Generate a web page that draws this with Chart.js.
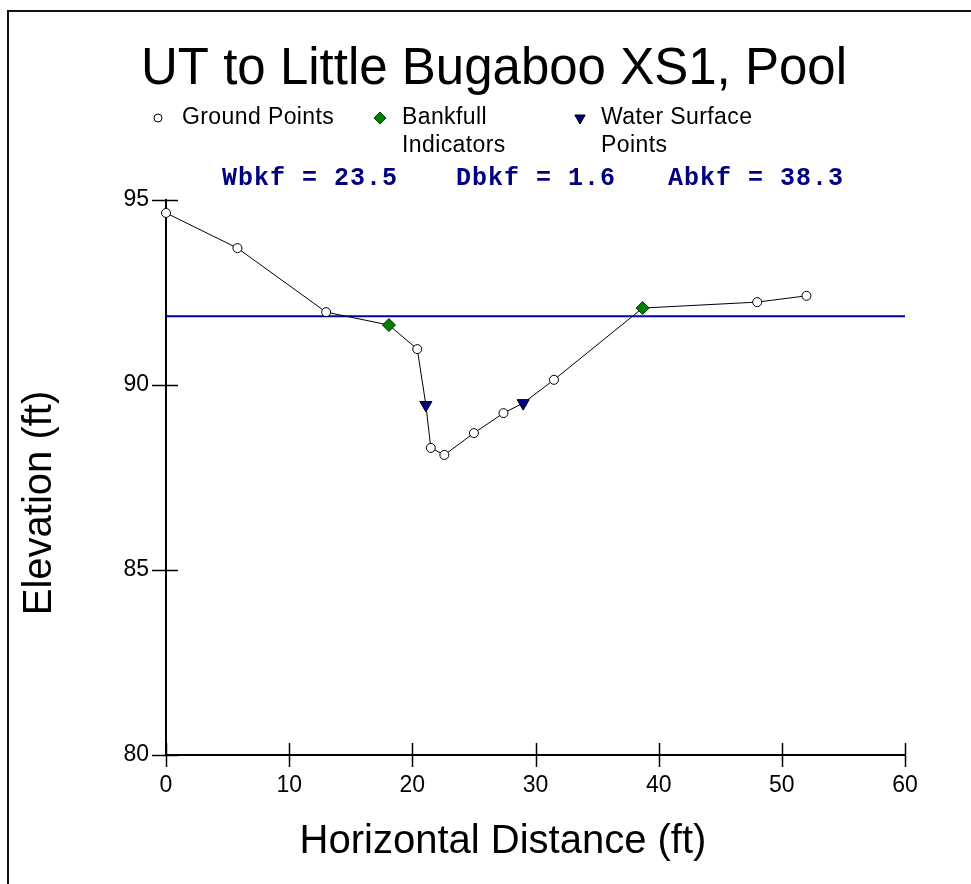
<!DOCTYPE html>
<html>
<head>
<meta charset="utf-8">
<title>UT to Little Bugaboo XS1, Pool</title>
<script src="https://cdn.jsdelivr.net/npm/chart.js@4.4.1/dist/chart.umd.min.js"></script>
<style>
  html, body { margin: 0; padding: 0; background: #ffffff; }
  canvas { display: block; }
</style>
</head>
<body>
<canvas id="xsChart" width="971" height="884"></canvas>
<script>
// survey data (station ft, elevation ft)
const groundX = [0, 5.8, 13.0, 20.4, 21.5, 22.6, 25.0, 27.4, 31.5, 48.0, 52.0];
const groundY = [94.65, 93.7, 91.97, 90.97, 88.3, 88.11, 88.7, 89.24, 90.14, 92.24, 92.41];
const bankfullX = [18.1, 38.7];
const bankfullY = [91.62, 92.08];
const waterX = [21.1, 29.0];
const waterY = [89.46, 89.51];
const bkfLineX = [0, 60];
const bkfElev = 91.86;
const xTicks = [0, 10, 20, 30, 40, 50, 60];
const yTicks = [80, 85, 90, 95];
const stats = ["Wbkf = 23.5", "Dbkf = 1.6", "Abkf = 38.3"];

const SANS = '"Liberation Sans", Arial, sans-serif';
const MONO = '"Liberation Mono", "DejaVu Sans Mono", monospace';

const toPts = (xs, ys) => xs.map((x, i) => ({ x: x, y: ys[i] }));

// profile line goes through every surveyed point in station order
const profile = toPts(groundX, groundY)
  .concat(toPts(bankfullX, bankfullY), toPts(waterX, waterY))
  .sort((a, b) => a.x - b.x);

const bkfLine = bkfLineX.map(x => ({ x: x, y: bkfElev }));

// frame, titles, legend, stats and crossing tick marks
const decorations = {
  id: "decorations",
  beforeDraw(chart) {
    const ctx = chart.ctx;
    ctx.save();
    ctx.fillStyle = "#ffffff";
    ctx.fillRect(0, 0, chart.width, chart.height);
    ctx.strokeStyle = "#111";
    ctx.lineWidth = 2;
    ctx.strokeRect(8, 11, 1200, 1200);
    ctx.restore();
  },
  afterDraw(chart) {
    const ctx = chart.ctx;
    const xs = chart.scales.x, ys = chart.scales.y;
    ctx.save();

    // tick marks that cross the axes
    ctx.strokeStyle = "#000";
    ctx.lineWidth = 1.5;
    ctx.beginPath();
    ys.ticks.forEach(t => {
      const py = Math.round(ys.getPixelForValue(t.value)) + 0.5;
      ctx.moveTo(152, py);
      ctx.lineTo(178, py);
    });
    xs.ticks.forEach(t => {
      const px = Math.round(xs.getPixelForValue(t.value)) + 0.5;
      ctx.moveTo(px, 743);
      ctx.lineTo(px, 767);
    });
    ctx.stroke();

    ctx.fillStyle = "#000";
    ctx.textBaseline = "middle";

    // chart title
    ctx.font = "51px " + SANS;
    ctx.textAlign = "center";
    ctx.fillText("UT to Little Bugaboo XS1, Pool", 494, 70);

    // axis titles
    ctx.font = "40px " + SANS;
    ctx.fillText("Horizontal Distance (ft)", 503, 842);
    ctx.save();
    ctx.translate(40, 503);
    ctx.rotate(-Math.PI / 2);
    ctx.fillText("Elevation (ft)", 0, 0);
    ctx.restore();

    // legend
    const drawPoint = Chart.helpers.drawPoint;
    ctx.lineWidth = 1;
    ctx.strokeStyle = "#000";
    ctx.fillStyle = "#ffffff";
    drawPoint(ctx, { pointStyle: "circle", radius: 4, rotation: 0, borderWidth: 1 }, 158, 118);
    ctx.fillStyle = "#008000";
    ctx.strokeStyle = "#004000";
    drawPoint(ctx, { pointStyle: "rectRot", radius: 6, rotation: 0, borderWidth: 1 }, 380, 118);
    ctx.fillStyle = "#000080";
    ctx.strokeStyle = "#000";
    drawPoint(ctx, { pointStyle: "triangle", radius: 6, rotation: 180, borderWidth: 1 }, 580, 118);

    ctx.fillStyle = "#000";
    ctx.font = "23px " + SANS;
    ctx.textAlign = "left";
    ctx.letterSpacing = "0.4px";
    ctx.fillText("Ground Points", 182, 118);
    ctx.fillText("Bankfull", 402, 118);
    ctx.fillText("Indicators", 402, 146);
    ctx.fillText("Water Surface", 601, 118);
    ctx.fillText("Points", 601, 146);

    // bankfull stats
    ctx.fillStyle = "#000080";
    ctx.font = "bold 25px " + MONO;
    ctx.letterSpacing = "1px";
    const statX = [222, 456, 668];
    stats.forEach((s, i) => ctx.fillText(s, statX[i], 179));

    ctx.restore();
  }
};

new Chart(document.getElementById("xsChart").getContext("2d"), {
  type: "scatter",
  data: {
    datasets: [
      {
        label: "Bankfull Elevation",
        data: bkfLine,
        showLine: true,
        borderColor: "#0000a8",
        borderWidth: 2,
        pointRadius: 0,
        clip: false,
        order: 3,
      },
      {
        label: "Profile",
        data: profile,
        showLine: true,
        borderColor: "#000",
        borderWidth: 1,
        pointRadius: 0,
        clip: false,
        order: 2,
      },
      {
        label: "Ground Points",
        data: toPts(groundX, groundY),
        pointStyle: "circle",
        pointRadius: 4.5,
        backgroundColor: "#ffffff",
        borderColor: "#000",
        borderWidth: 1,
        clip: false,
        order: 1,
      },
      {
        label: "Bankfull Indicators",
        data: toPts(bankfullX, bankfullY),
        pointStyle: "rectRot",
        pointRadius: 6.5,
        backgroundColor: "#008000",
        borderColor: "#003000",
        borderWidth: 1,
        clip: false,
        order: 0,
      },
      {
        label: "Water Surface Points",
        data: toPts(waterX, waterY),
        pointStyle: "triangle",
        pointRotation: 180,
        pointRadius: 7,
        backgroundColor: "#000080",
        borderColor: "#000",
        borderWidth: 1,
        clip: false,
        order: 0,
      },
    ],
  },
  options: {
    responsive: false,
    animation: false,
    devicePixelRatio: 1,
    layout: { padding: { left: 0, top: 200, right: 66, bottom: 0 } },
    plugins: {
      legend: { display: false },
      title: { display: false },
      tooltip: { enabled: false },
    },
    scales: {
      x: {
        type: "linear",
        min: xTicks[0],
        max: xTicks[xTicks.length - 1],
        afterBuildTicks: s => { s.ticks = xTicks.map(v => ({ value: v })); },
        afterFit: s => { s.height = 129; },
        grid: { display: false },
        border: { display: true, color: "#000", width: 2 },
        ticks: {
          padding: 9,
          color: "#000",
          maxRotation: 0,
          font: { family: SANS, size: 23 },
        },
      },
      y: {
        type: "linear",
        min: yTicks[0],
        max: yTicks[yTicks.length - 1],
        afterBuildTicks: s => { s.ticks = yTicks.map(v => ({ value: v })); },
        afterFit: s => { s.width = 166; },
        grid: { display: false },
        border: { display: true, color: "#000", width: 2 },
        ticks: {
          padding: 9,
          color: "#000",
          font: { family: SANS, size: 23 },
        },
      },
    },
  },
  plugins: [decorations],
});
</script>
</body>
</html>
